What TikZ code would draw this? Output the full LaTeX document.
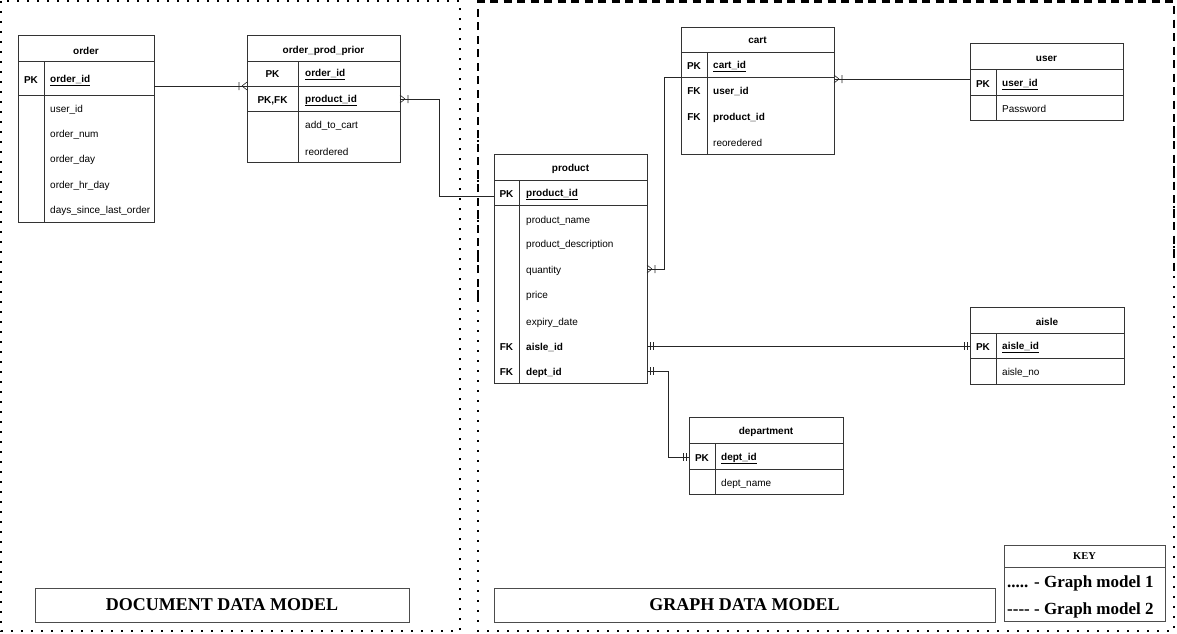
\documentclass[tikz,border=0pt]{standalone}
\usepackage{fontspec}
\setmainfont{Liberation Serif}
\setsansfont{Liberation Sans}
\usetikzlibrary{calc}

% ER end marks: #1 point on the table edge, #2 = +1 (mark to the right) or -1
\newcommand{\crowsfoot}[2]{%
  \path[draw, rel]($(#1)+(#2*5,0)$)to($(#1)+(0,-4)$)
    ($(#1)+(#2*5,0)$)to($(#1)+(0,4)$)
    ($(#1)+(#2*8,-4)$)to($(#1)+(#2*8,4)$);}
\newcommand{\mandone}[2]{%
  \path[draw, rel]($(#1)+(#2*3,-4)$)to($(#1)+(#2*3,4)$)
    ($(#1)+(#2*6,-4)$)to($(#1)+(#2*6,4)$);}

\tikzset{
  tbl/.style = {draw = black!80, line width = 0.7pt},
  rel/.style = {draw = black!85, line width = 0.6pt},
  head/.style = {font = \sffamily\bfseries\fontsize{10}{12}\selectfont, inner sep = 0pt, yshift = -1.5pt},
  keylbl/.style = {font = \sffamily\bfseries\fontsize{10}{12}\selectfont, inner sep = 0pt, yshift = -1.5pt},
  fld/.style = {anchor = west, font = \sffamily\fontsize{10}{12}\selectfont, inner sep = 0pt, yshift = -1.5pt},
  keyfld/.style = {fld, font = \sffamily\bfseries\fontsize{10}{12}\selectfont},
  dotframe/.style = {line width = 2pt, dash pattern = on 2pt off 8pt},
  dashframe/.style = {line width = 2.8pt, dash pattern = on 8pt off 5.5pt},
  titlebox/.style = {draw = black!70, line width = 0.7pt},
  bigtitle/.style = {font = \bfseries\fontsize{18}{20}\selectfont, inner sep = 0pt},
}

\begin{document}
\begin{tikzpicture}[x = 1pt, y = -1pt]
  \useasboundingbox (0,0) rectangle (1177,633);
  % frames
  \path[draw, dotframe](1,1)rectangle(460,631);
  \path[draw, dotframe](478,110)to(478,631)to(1174,631)to(1174,110);
  \path[draw, dashframe](478,300)to(478,1.5)to(1174,1.5)to(1174,275);

  % order
  \path[draw, tbl](18,35)rectangle(154,222);
  \path[draw, tbl](18,61)to(154,61) (18,95)to(154,95) (44,61)to(44,222);
  \node[head](order-head)at(86,49){order};
  \node[keylbl](order-pk)at(31,79){PK};
  \node[keyfld](order-id)at(50,79){\underline{order\_id}};
  \foreach \y/\n/\t in {108/uid/user\_id, 133/num/order\_num, 158/day/order\_day,
      184/hr/order\_hr\_day, 209/days/days\_since\_last\_order}
    \node[fld](order-\n)at(50,\y){\t};

  % order_prod_prior
  \path[draw, tbl](247,35)rectangle(400,162);
  \path[draw, tbl](247,61)to(400,61) (247,86)to(400,86) (247,111)to(400,111) (298,61)to(298,162);
  \node[head](opp-head)at(323.5,49){order\_prod\_prior};
  \node[keylbl](opp-pk)at(272.5,73){PK};
  \node[keyfld](opp-oid)at(305,73){\underline{order\_id}};
  \node[keylbl](opp-pkfk)at(272.5,99){PK,FK};
  \node[keyfld](opp-pid)at(305,99){\underline{product\_id}};
  \node[fld](opp-add)at(305,124){add\_to\_cart};
  \node[fld](opp-re)at(305,150){reordered};

  % cart
  \path[draw, tbl](681,27)rectangle(834,154);
  \path[draw, tbl](681,52)to(834,52) (681,77)to(834,77) (707,52)to(707,154);
  \node[head](cart-head)at(757.5,39){cart};
  \node[keylbl](cart-pk)at(694,65){PK};
  \node[keyfld](cart-id)at(713,65){\underline{cart\_id}};
  \node[keylbl](cart-fk1)at(694,90){FK};
  \node[keyfld](cart-uid)at(713,90){user\_id};
  \node[keylbl](cart-fk2)at(694,116){FK};
  \node[keyfld](cart-pid)at(713,116){product\_id};
  \node[fld](cart-re)at(713,141){reoredered};

  % user
  \path[draw, tbl](970,43)rectangle(1123,120);
  \path[draw, tbl](970,69)to(1123,69) (970,95)to(1123,95) (996,69)to(996,120);
  \node[head](user-head)at(1046.5,57){user};
  \node[keylbl](user-pk)at(983,83){PK};
  \node[keyfld](user-id)at(1002,83){\underline{user\_id}};
  \node[fld](user-pw)at(1002,107){Password};

  % product
  \path[draw, tbl](494,154)rectangle(647,383);
  \path[draw, tbl](494,180)to(647,180) (494,205)to(647,205) (519,180)to(519,383);
  \node[head](prod-head)at(570.5,167){product};
  \node[keylbl](prod-pk)at(506.5,193){PK};
  \node[keyfld](prod-id)at(526,193){\underline{product\_id}};
  \foreach \y/\n/\t in {219/name/product\_name, 243/desc/product\_description,
      269/qty/quantity, 294/price/price, 321/exp/expiry\_date}
    \node[fld](prod-\n)at(526,\y){\t};
  \node[keylbl](prod-fk1)at(506.5,346){FK};
  \node[keyfld](prod-aisle)at(526,346){aisle\_id};
  \node[keylbl](prod-fk2)at(506.5,371){FK};
  \node[keyfld](prod-dept)at(526,371){dept\_id};

  % aisle
  \path[draw, tbl](970,307)rectangle(1124,384);
  \path[draw, tbl](970,333)to(1124,333) (970,358)to(1124,358) (996,333)to(996,384);
  \node[head](aisle-head)at(1047,320){aisle};
  \node[keylbl](aisle-pk)at(983,346){PK};
  \node[keyfld](aisle-id)at(1002,346){\underline{aisle\_id}};
  \node[fld](aisle-no)at(1002,371){aisle\_no};

  % department
  \path[draw, tbl](689,417)rectangle(843,494);
  \path[draw, tbl](689,443)to(843,443) (689,469)to(843,469) (715,443)to(715,494);
  \node[head](dept-head)at(766,430){department};
  \node[keylbl](dept-pk)at(702,457){PK};
  \node[keyfld](dept-id)at(721,457){\underline{dept\_id}};
  \node[fld](dept-name)at(721,482){dept\_name};

  % connector ends
  \coordinate(order-e)at(154,86);
  \coordinate(opp-w)at(247,86);
  \coordinate(opp-e)at(400,99);
  \coordinate(prod-w)at(494,196);
  \coordinate(prod-qty-e)at(647,269);
  \coordinate(cart-w)at(681,77);
  \coordinate(cart-e)at(834,79);
  \coordinate(user-w)at(970,79);
  \coordinate(prod-aisle-e)at(647,346);
  \coordinate(aisle-w)at(970,346);
  \coordinate(prod-dept-e)at(647,371);
  \coordinate(dept-w)at(689,457);

  % relations
  \path[draw, rel](order-e)to(opp-w);
  \crowsfoot{opp-w}{-1}
  \path[draw, rel](opp-e)-|(439,196)--(prod-w);
  \crowsfoot{opp-e}{1}
  \path[draw, rel](prod-qty-e)-|(664,77)--(cart-w);
  \crowsfoot{prod-qty-e}{1}
  \path[draw, rel](cart-e)to(user-w);
  \crowsfoot{cart-e}{1}
  \path[draw, rel](prod-aisle-e)to(aisle-w);
  \mandone{prod-aisle-e}{1}
  \mandone{aisle-w}{-1}
  \path[draw, rel](prod-dept-e)-|(668,457)--(dept-w);
  \mandone{prod-dept-e}{1}
  \mandone{dept-w}{-1}

  % model titles
  \path[draw, titlebox](35,588)rectangle(409,622);
  \node[bigtitle](doc-title)at(222,605){DOCUMENT DATA MODEL};
  \path[draw, titlebox](494,588)rectangle(995,622);
  \node[bigtitle](graph-title)at(744.5,605){GRAPH DATA MODEL};

  % key
  \path[draw, titlebox](1004,545)rectangle(1165,621);
  \path[draw, titlebox](1004,567)to(1165,567);
  \node[font = \bfseries\fontsize{10.5}{12}\selectfont, inner sep = 0pt](key-head)at(1084.5,556){KEY};
  \node[anchor = west, font = \bfseries\fontsize{17}{19}\selectfont, inner sep = 0pt](key-dot)at(1007,583){..... - Graph model 1};
  \node[anchor = west, font = \bfseries\fontsize{17}{19}\selectfont, inner sep = 0pt](key-dash)at(1007,610){-{}-{}-{}- - Graph model 2};
\end{tikzpicture}
\end{document}
